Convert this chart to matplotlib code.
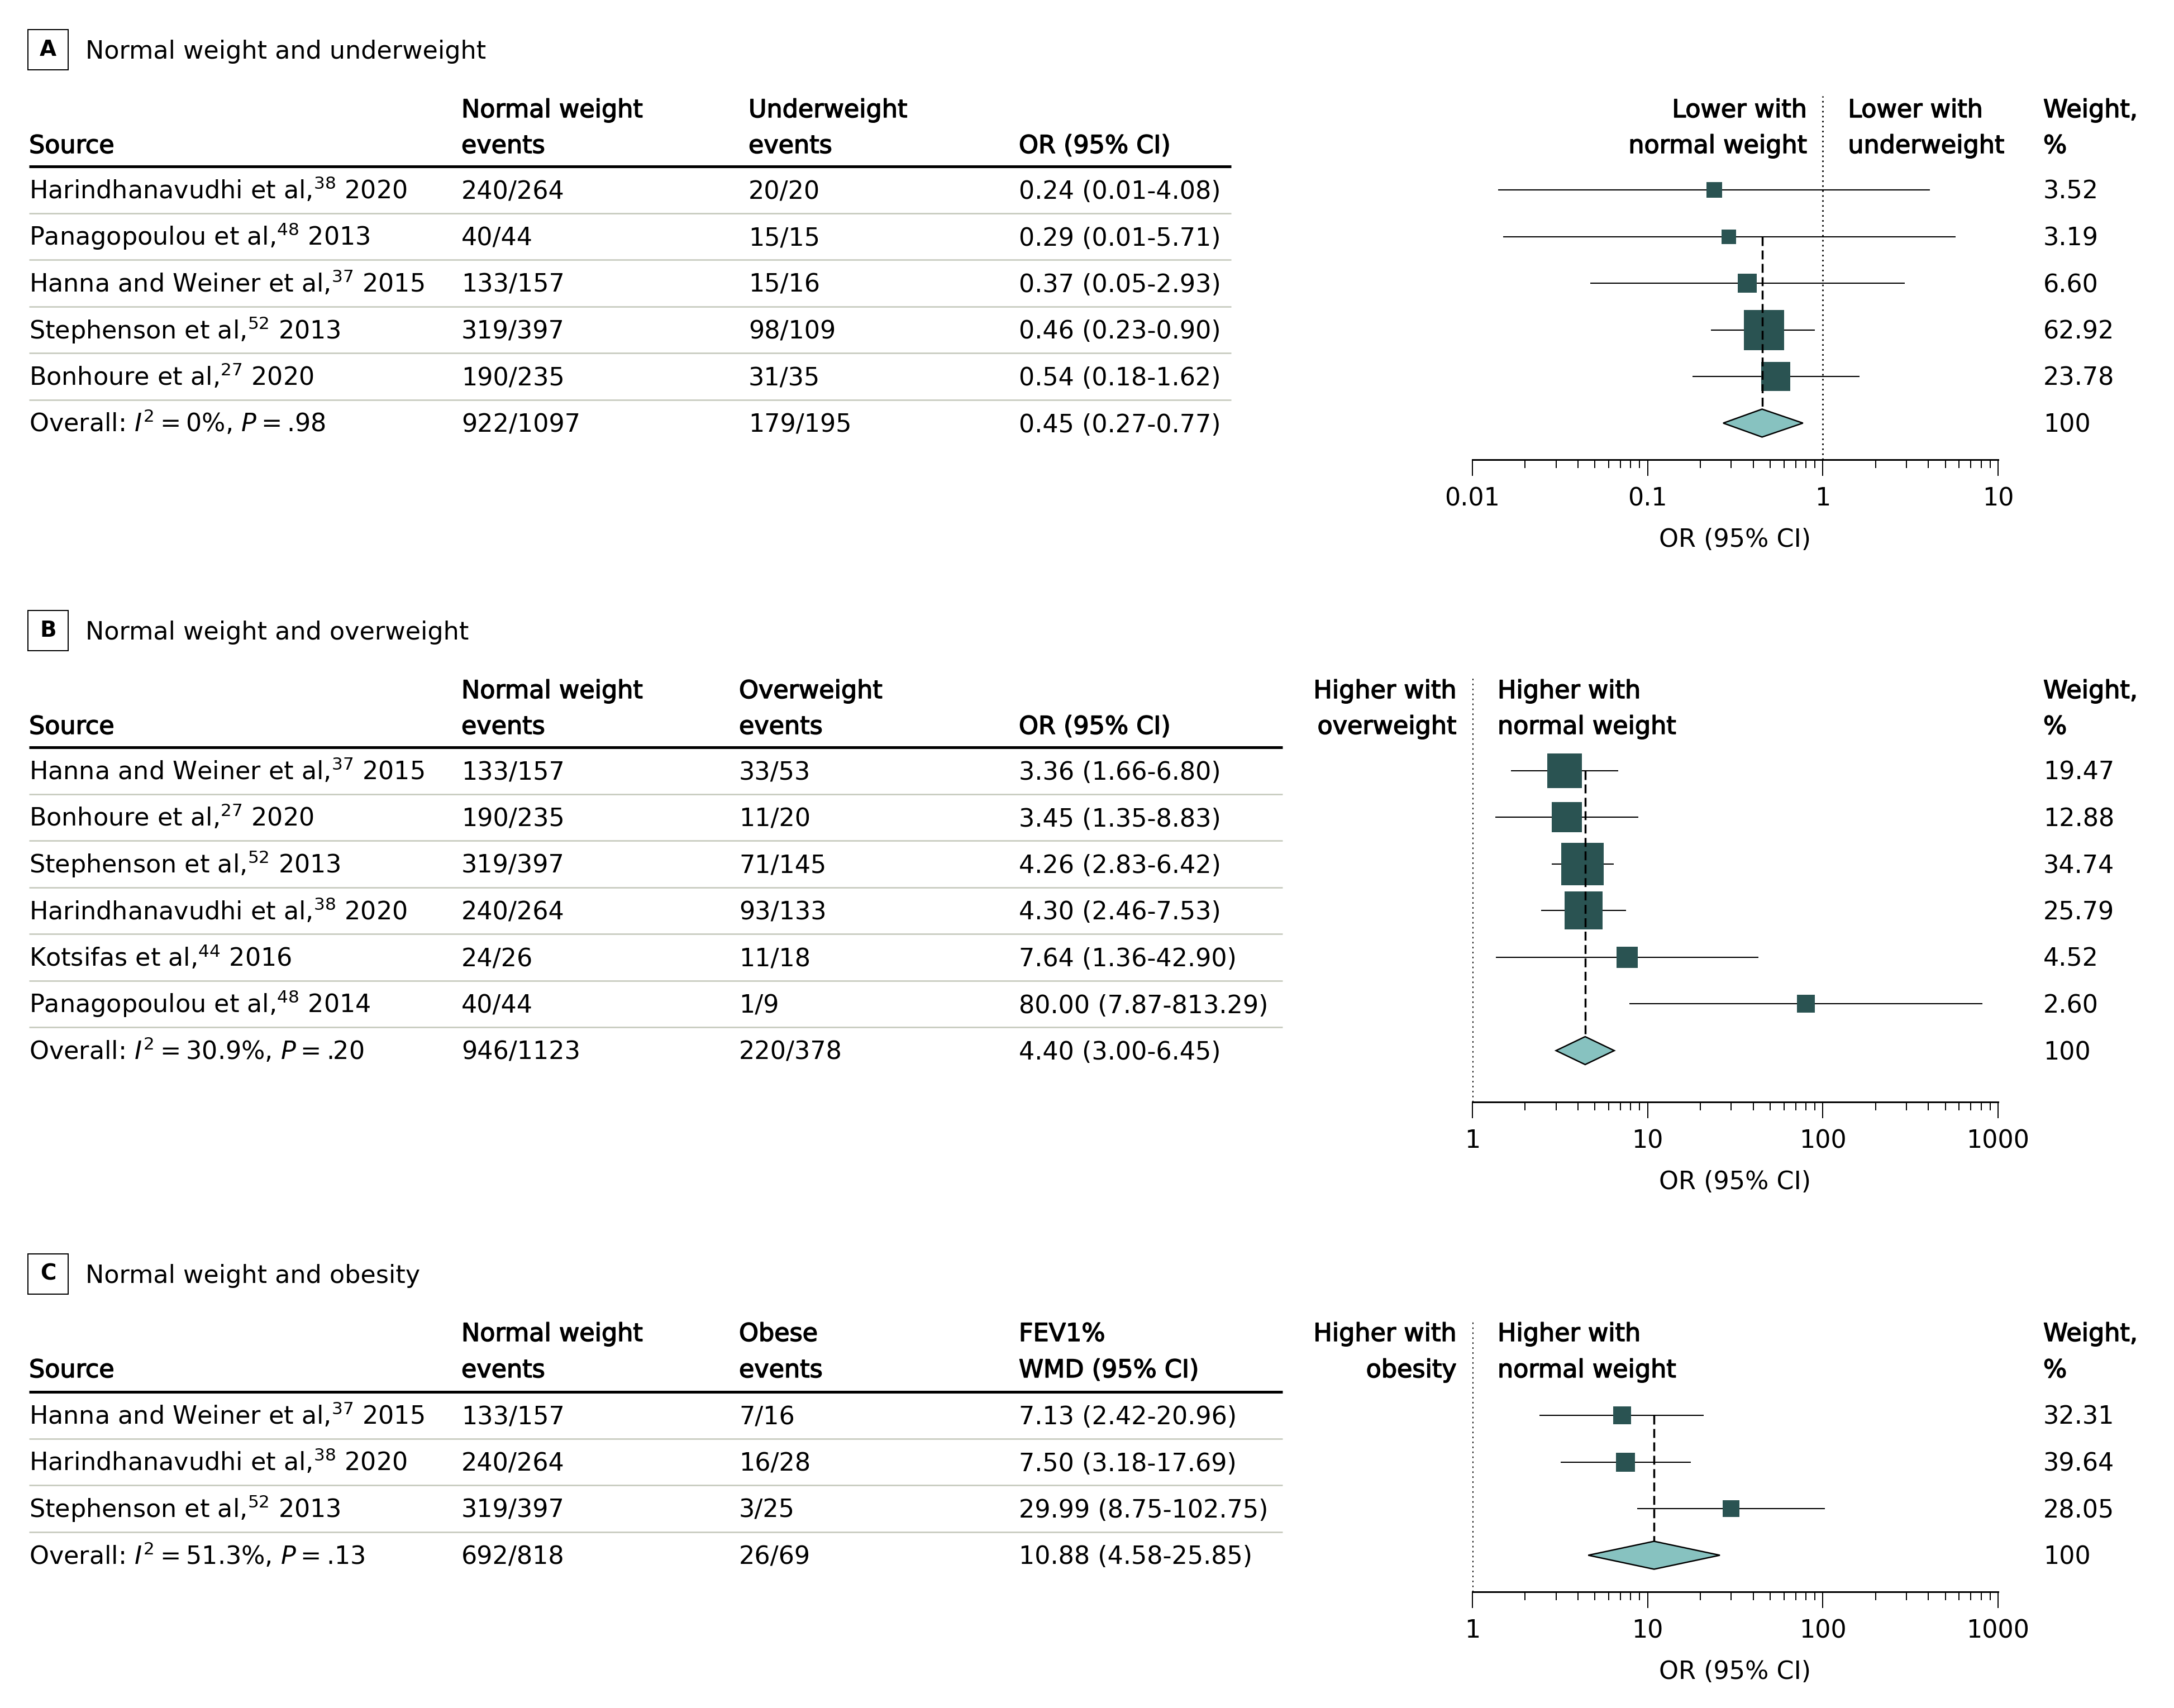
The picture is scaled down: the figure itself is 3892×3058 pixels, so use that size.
import numpy as np
import matplotlib
matplotlib.use("Agg")
import matplotlib.pyplot as plt
import matplotlib.patheffects as pe
from matplotlib.patches import Rectangle, Polygon

plt.rcParams['font.family'] = ['DejaVu Sans']
plt.rcParams['mathtext.fontset'] = 'dejavusans'
plt.rcParams['mathtext.default'] = 'regular'

W, H = 3892, 3058
FS = 32
SQ_COLOR = '#2a5352'
DIA_COLOR = '#87c2c0'
SEP_COLOR = '#c5c9bc'
THIN = '\u2009'

# ---------- DATA ----------
# Panel A: normal weight vs underweight
a_source = ["Harindhanavudhi et al,$^{38}$ 2020", "Panagopoulou et al,$^{48}$ 2013",
            "Hanna and Weiner et al,$^{37}$ 2015", "Stephenson et al,$^{52}$ 2013",
            "Bonhoure et al,$^{27}$ 2020"]
a_normal = ["240/264", "40/44", "133/157", "319/397", "190/235"]
a_other = ["20/20", "15/15", "15/16", "98/109", "31/35"]
a_or_text = ["0.24 (0.01-4.08)", "0.29 (0.01-5.71)", "0.37 (0.05-2.93)",
             "0.46 (0.23-0.90)", "0.54 (0.18-1.62)"]
a_or = [0.24, 0.29, 0.37, 0.46, 0.54]
a_lo = [0.014, 0.015, 0.047, 0.23, 0.18]
a_hi = [4.08, 5.71, 2.93, 0.90, 1.62]
a_weight = [3.52, 3.19, 6.60, 62.92, 23.78]
a_stats = ["0%", ".98"]
a_total = ["922/1097", "179/195", "0.45 (0.27-0.77)"]
a_pool = [0.45, 0.27, 0.77]

# Panel B: normal weight vs overweight
b_source = ["Hanna and Weiner et al,$^{37}$ 2015", "Bonhoure et al,$^{27}$ 2020",
            "Stephenson et al,$^{52}$ 2013", "Harindhanavudhi et al,$^{38}$ 2020",
            "Kotsifas et al,$^{44}$ 2016", "Panagopoulou et al,$^{48}$ 2014"]
b_normal = ["133/157", "190/235", "319/397", "240/264", "24/26", "40/44"]
b_other = ["33/53", "11/20", "71/145", "93/133", "11/18", "1/9"]
b_or_text = ["3.36 (1.66-6.80)", "3.45 (1.35-8.83)", "4.26 (2.83-6.42)",
             "4.30 (2.46-7.53)", "7.64 (1.36-42.90)", "80.00 (7.87-813.29)"]
b_or = [3.36, 3.45, 4.26, 4.30, 7.64, 80.00]
b_lo = [1.66, 1.35, 2.83, 2.46, 1.36, 7.87]
b_hi = [6.80, 8.83, 6.42, 7.53, 42.90, 813.29]
b_weight = [19.47, 12.88, 34.74, 25.79, 4.52, 2.60]
b_stats = ["30.9%", ".20"]
b_total = ["946/1123", "220/378", "4.40 (3.00-6.45)"]
b_pool = [4.40, 3.00, 6.45]

# Panel C: normal weight vs obesity
c_source = ["Hanna and Weiner et al,$^{37}$ 2015", "Harindhanavudhi et al,$^{38}$ 2020",
            "Stephenson et al,$^{52}$ 2013"]
c_normal = ["133/157", "240/264", "319/397"]
c_other = ["7/16", "16/28", "3/25"]
c_or_text = ["7.13 (2.42-20.96)", "7.50 (3.18-17.69)", "29.99 (8.75-102.75)"]
c_or = [7.13, 7.50, 29.99]
c_lo = [2.42, 3.18, 8.75]
c_hi = [20.96, 17.69, 102.75]
c_weight = [32.31, 39.64, 28.05]
c_stats = ["51.3%", ".13"]
c_total = ["692/818", "26/69", "10.88 (4.58-25.85)"]
c_pool = [10.88, 4.58, 25.85]

fig = plt.figure(figsize=(W / 100, H / 100), dpi=100)
ax = fig.add_axes([0, 0, 1, 1])
ax.set_xlim(0, W)
ax.set_ylim(H, 0)
ax.axis('off')

PX = 1 / 1.389  # points per pixel
SEMI = [pe.withStroke(linewidth=1.1, foreground='black')]


def txt(x, y, s, ha='left', bold=False, size=FS):
    # y is the visual centre of the cap height
    ax.text(x, y + 16, s, ha=ha, va='baseline', fontsize=size,
            path_effects=SEMI if bold else None)


def draw_panel(letter, title, y_title, y_head, first_row, y_dot, y_axis,
               col_other, line_end, head_other, head_or,
               sources, normal, other, or_text, est, lo, hi, weight, stats, total, pool,
               xlim, ticks, ticklabels, left_lab, right_lab, sq_scale, dash_from):
    # panel label and title
    ax.add_patch(Rectangle((50, y_title - 36), 72, 72, fill=False, lw=2 * PX, ec='black'))
    ax.text(86, y_title, letter, ha='center', va='center', fontsize=FS - 4, fontweight='bold')
    txt(153, y_title, title)

    # table headers
    h1, h2 = y_head
    txt(52, h2, "Source", bold=True)
    txt(826, h1, "Normal weight", bold=True)
    txt(826, h2, "events", bold=True)
    txt(col_other, h1, head_other, bold=True)
    txt(col_other, h2, "events", bold=True)
    if len(head_or) == 2:
        txt(1824, h1, head_or[0], bold=True)
        txt(1824, h2, head_or[1], bold=True)
    else:
        txt(1824, h2, head_or[0], bold=True)
    txt(3658, h1, "Weight,", bold=True)
    txt(3658, h2, "%", bold=True)

    n = len(sources)
    rows = [first_row + i * 83.5 for i in range(n + 1)]
    ax.plot([52, line_end], [first_row - 42, first_row - 42], color='black', lw=5 * PX,
            solid_capstyle='butt')
    for i in range(n):
        yy = (rows[i] + rows[i + 1]) / 2
        ax.plot([52, line_end], [yy, yy], color=SEP_COLOR, lw=2.6 * PX, solid_capstyle='butt')

    for i in range(n):
        txt(52, rows[i], sources[i])
        txt(826, rows[i], normal[i])
        txt(col_other, rows[i], other[i])
        txt(1824, rows[i], or_text[i])
        txt(3658, rows[i], f"{weight[i]:.2f}")
    overall = (f"Overall: $\\mathit{{I}}^{{2}}${THIN}={THIN}{stats[0]}, "
               f"$\\mathit{{P}}${THIN}={THIN}{stats[1]}")
    txt(52, rows[n], overall)
    txt(826, rows[n], total[0])
    txt(col_other, rows[n], total[1])
    txt(1824, rows[n], total[2])
    txt(3658, rows[n], "100")

    # forest plot
    x0, x1 = 2636, 3577
    fax = fig.add_axes([x0 / W, 1 - y_axis / H, (x1 - x0) / W, (y_axis - y_dot) / H])
    fax.set_xscale('log')
    fax.set_xlim(*xlim)
    fax.set_ylim(y_axis, y_dot)
    fax.patch.set_visible(False)
    for sp in ['top', 'left', 'right']:
        fax.spines[sp].set_visible(False)
    fax.spines['bottom'].set_linewidth(3 * PX)
    fax.set_yticks([])
    fax.set_xticks(ticks)
    fax.set_xticklabels(ticklabels)
    fax.tick_params(axis='x', which='major', length=29 * PX, width=2 * PX,
                    labelsize=FS, pad=14)
    fax.tick_params(axis='x', which='minor', length=15 * PX, width=2 * PX)
    fax.set_xlabel("OR (95% CI)", fontsize=FS, labelpad=22)

    fax.axvline(1, color='black', lw=2, linestyle=(0, (1, 2.2)))
    for i in range(n):
        fax.plot([lo[i], hi[i]], [rows[i], rows[i]], color='black', lw=1.5,
                 solid_capstyle='butt', zorder=2)
        side = sq_scale * weight[i] ** (1 / 3)
        fax.plot(est[i], rows[i], marker='s', ms=side * PX, color=SQ_COLOR,
                 mec=SQ_COLOR, mew=0, zorder=3)
    yd = rows[n]
    fax.plot([pool[0], pool[0]], [rows[dash_from], yd - 25], color='black', lw=2.5,
             linestyle=(0, (4.6, 2.3)), zorder=4)
    fax.add_patch(Polygon([(pool[1], yd), (pool[0], yd - 25), (pool[2], yd), (pool[0], yd + 25)],
                          closed=True, fc=DIA_COLOR, ec='black', lw=1.8, zorder=5))

    # direction labels either side of the null line
    xd = fax.transData.transform((1, 1))[0]
    txt(xd - 28, h1, left_lab[0], ha='right', bold=True)
    txt(xd - 28, h2, left_lab[1], ha='right', bold=True)
    txt(xd + 45, h1, right_lab[0], bold=True)
    txt(xd + 45, h2, right_lab[1], bold=True)


fig.canvas.draw()

draw_panel("A", "Normal weight and underweight", 89, (194, 258), 340, 172, 823,
           1340, 2204, "Underweight", ["OR (95% CI)"],
           a_source, a_normal, a_other, a_or_text, a_or, a_lo, a_hi, a_weight, a_stats, a_total, a_pool,
           (0.01, 10), [0.01, 0.1, 1, 10], ["0.01", "0.1", "1", "10"],
           ["Lower with", "normal weight"], ["Lower with", "underweight"], 18.1, 1)

draw_panel("B", "Normal weight and overweight", 1129, (1234, 1298), 1380, 1211, 1973,
           1323, 2296, "Overweight", ["OR (95% CI)"],
           b_source, b_normal, b_other, b_or_text, b_or, b_lo, b_hi, b_weight, b_stats, b_total, b_pool,
           (1, 1000), [1, 10, 100, 1000], ["1", "10", "100", "1000"],
           ["Higher with", "overweight"], ["Higher with", "normal weight"], 23.3, 0)

draw_panel("C", "Normal weight and obesity", 2281, (2385, 2450), 2534, 2363, 2850,
           1323, 2296, "Obese", ["FEV1%", "WMD (95% CI)"],
           c_source, c_normal, c_other, c_or_text, c_or, c_lo, c_hi, c_weight, c_stats, c_total, c_pool,
           (1, 1000), [1, 10, 100, 1000], ["1", "10", "100", "1000"],
           ["Higher with", "obesity"], ["Higher with", "normal weight"], 10.2, 0)

fig.savefig("out.png", dpi=100)
